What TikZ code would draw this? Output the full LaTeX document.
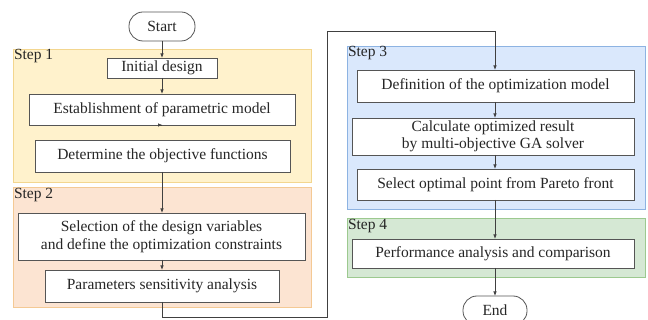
\documentclass[tikz,border=0pt]{standalone}
\usepackage{fontspec}
\setmainfont{Liberation Serif}
\usetikzlibrary{arrows.meta}
\definecolor{ln}{HTML}{404040}
\definecolor{boxln}{HTML}{555555}
\definecolor{yfill}{HTML}{FFF2CC}
\definecolor{yline}{HTML}{F3D68F}
\definecolor{ofill}{HTML}{FCE4D2}
\definecolor{oline}{HTML}{F4C994}
\definecolor{bfill}{HTML}{DAE8FC}
\definecolor{bline}{HTML}{8DB3E2}
\definecolor{gfill}{HTML}{D5E8D4}
\definecolor{gline}{HTML}{9CC98F}
\begin{document}
\begin{tikzpicture}[x=1pt,y=-1pt,
  font=\fontsize{15.5}{17.5}\selectfont,
  every node/.style={text=black!85, inner sep=0pt, outer sep=0pt},
  proc/.style={draw=boxln, line width=0.8pt, fill=white, align=center},
  term/.style={draw=boxln, line width=0.8pt, fill=white, rounded corners=14pt, minimum width=66pt, minimum height=29pt},
  panel/.style={line width=0.9pt},
  steplbl/.style={anchor=north west},
  flow/.style={draw=ln, line width=0.7pt, -{Latex[length=4.5pt,width=3.5pt]}}]
\useasboundingbox (0,0) rectangle (648,320);
\fill[white] (0,0) rectangle (648,320);
% panels
\draw[panel, draw=yline, fill=yfill] (13,49) rectangle (311,182);
\draw[panel, draw=oline, fill=ofill] (13,187) rectangle (311,307);
\draw[panel, draw=bline, fill=bfill] (347,46) rectangle (645,209);
\draw[panel, draw=gline, fill=gfill] (347,218) rectangle (645,277);
\node[steplbl] (s1) at (14,49) {Step 1};
\node[steplbl] (s2) at (14,188) {Step 2};
\node[steplbl] (s3) at (348,46) {Step 3};
\node[steplbl] (s4) at (348,219) {Step 4};
% nodes
\node[term] (start) at (162,26.5) {Start};
\node[proc, minimum width=110pt, minimum height=20pt] (init) at (162,68) {Initial design};
\node[proc, minimum width=266pt, minimum height=31pt] (estab) at (162,109.5) {Establishment of parametric model};
\node[proc, minimum width=255pt, minimum height=32pt] (obj) at (162.5,156) {Determine the objective functions};
\node[proc, minimum width=287pt, minimum height=47pt] (sel) at (161.5,236.5) {Selection of the design variables\\and define the optimization constraints};
\node[proc, minimum width=234pt, minimum height=32pt] (sens) at (162,286) {Parameters sensitivity analysis};
\node[proc, minimum width=277pt, minimum height=32pt] (def) at (495.5,86) {Definition of the optimization model};
\node[proc, minimum width=282pt, minimum height=37pt] (calc) at (493,136.5) {Calculate optimized result\\by multi-objective GA solver};
\node[proc, minimum width=277pt, minimum height=31pt] (pareto) at (495.5,184.5) {Select optimal point from Pareto front};
\node[proc, minimum width=282pt, minimum height=29pt] (perf) at (493,253.5) {Performance analysis and comparison};
\node[term, minimum width=64pt] (end) at (495,310.5) {End};
% connectors
\draw[flow] (start.south) -- (init.north);
\draw[flow] (init.south) -- (init.south |- estab.north);
\draw[flow] (estab.south) -- (estab.south -| obj.north) ;
\draw[flow] (162,172) -- (162,213);
\coordinate (c1) at (162,317);
\coordinate (c2) at (327,317);
\coordinate (c3) at (327,31);
\coordinate (c4) at (495,31);
\draw[flow] (sel.south -| sens.north) -- (sens.north);
\draw[flow] (sens.south) -- (c1) -- (c2) -- (c3) -- (c4) -- (def.north -| c4);
\draw[flow] (def.south -| c4) -- (calc.north -| c4);
\draw[flow] (calc.south -| c4) -- (pareto.north -| c4);
\draw[flow] (pareto.south -| c4) -- (perf.north -| c4);
\draw[flow] (perf.south -| c4) -- (end.north);
\end{tikzpicture}
\end{document}
